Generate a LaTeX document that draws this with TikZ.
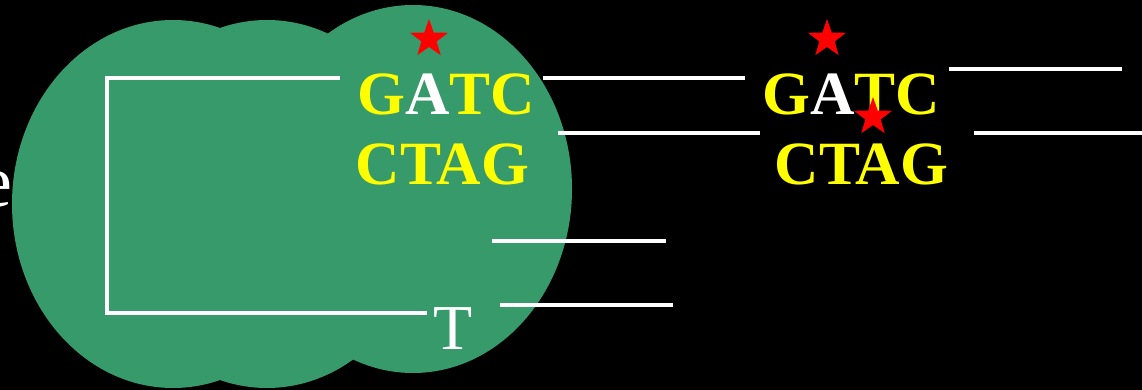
\documentclass[tikz,border=0pt]{standalone}
\usepackage{fontspec}
\setmainfont{Liberation Serif}
\usetikzlibrary{shapes.geometric}
\definecolor{cellgreen}{HTML}{369A6B}
\definecolor{baseyellow}{HTML}{FFFF00}

\begin{document}
\begin{tikzpicture}[x=1pt,y=-1pt,
		strand/.style={white,line width=3.2pt},
		site/.style={inner sep=0pt,anchor=base,text=baseyellow,
			font=\fontsize{61.5}{62}\selectfont\bfseries},
		methyl/.style={star,star points=5,star point ratio=2.5,
			minimum size=40pt,inner sep=0pt,fill=red}]
	\fill[black] (0,0) rectangle (1142,390);
	\useasboundingbox (0,0) rectangle (1142,390);
	\node[inner sep=0pt,anchor=base east,text=white,
		font=\fontsize{74}{74}\selectfont] (lead) at (13,206) {e};
	\fill[cellgreen] (173,204) ellipse [x radius=161,y radius=184]
		(267,204) ellipse [x radius=161,y radius=184]
		(413,189) ellipse [x radius=159,y radius=184];
	
	\node[site] (gatcL) at (446.5,115) {G\textcolor{white}{A}TC};
	\node[site] (ctagL) at (442.5,185) {CTAG};
	\node[site] (gatcR) at (851,115) {G\textcolor{white}{A}TC};
	\node[site] (ctagR) at (861.5,185) {CTAG};
	\node[inner sep=0pt,anchor=base,text=white,
		font=\fontsize{64}{64}\selectfont] (tBase) at (453.5,349) {T};
	\node[methyl] (starL) at (429,39) {};
	\node[methyl] (starR) at (827,39) {};
	\node[methyl] (starM) at (873,117) {};
	
	\coordinate (b1) at (340,78);
	\coordinate (b2) at (107,78);
	\coordinate (b3) at (107,313);
	\coordinate (b4) at (427,313);
	\draw[strand] (b1) -- (b2) -- (b3) -- (b4);
	\coordinate (u1) at (543,78);  \coordinate (u2) at (745,78);
	\coordinate (v1) at (558,133); \coordinate (v2) at (760,133);
	\coordinate (w1) at (949,69);  \coordinate (w2) at (1122,69);
	\coordinate (x1) at (974,133); \coordinate (x2) at (1142,133);
	\coordinate (y1) at (492,241); \coordinate (y2) at (666,241);
	\coordinate (z1) at (500,305); \coordinate (z2) at (673,305);
	\draw[strand] (u1) -- (u2) (v1) -- (v2) (w1) -- (w2)
		(x1) -- (x2) (y1) -- (y2) (z1) -- (z2);
\end{tikzpicture}
\end{document}
